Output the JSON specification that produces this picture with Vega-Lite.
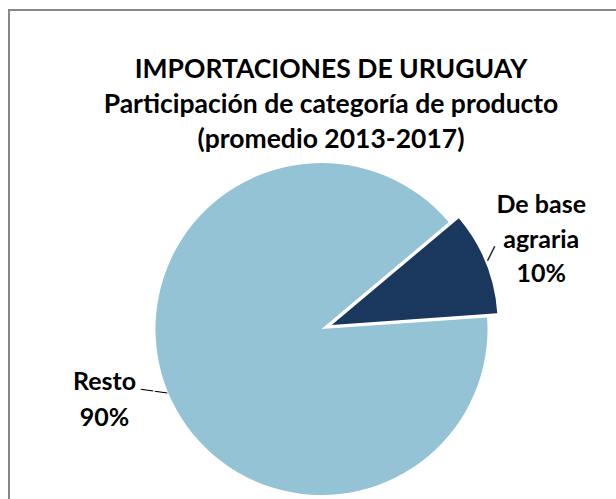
{
  "$schema": "https://vega.github.io/schema/vega-lite/v6.json",
  "autosize": "none",
  "width": 610,
  "height": 492,
  "padding": {"left": 9, "top": 10, "right": -3, "bottom": -3},
  "background": "white",
  "view": {"stroke": "#888888", "strokeWidth": 2},
  "config": {
    "view": {"stroke": "#888888", "strokeWidth": 2},
    "font": "Lato"
  },
  "title": {
    "text": ["IMPORTACIONES DE URUGUAY", "Participación de categoría de producto", "(promedio 2013-2017)"],
    "anchor": "middle",
    "font": "Lato",
    "fontWeight": "bold",
    "fontSize": 26.5,
    "lineHeight": 35,
    "color": "#000000",
    "offset": -143,
    "dx": 17
  },
  "data": {
    "values": [
      {"categoria": "De base agraria", "participacion": 10, "etiqueta": "De base\nagraria\n10%"},
      {"categoria": "Resto", "participacion": 90, "etiqueta": "Resto\n90%"}
    ]
  },
  "encoding": {
    "theta": {"field": "participacion", "type": "quantitative", "stack": true, "scale": {"domain": [0, 100], "range": [0.8727, 7.1559]}},
    "order": {"field": "categoria", "type": "nominal", "sort": "ascending"}
  },
  "layer": [
    {
      "mark": {"type": "arc", "outerRadius": 166, "xOffset": 7.5, "yOffset": 73},
      "encoding": {
        "color": {"field": "categoria", "type": "nominal", "scale": {"domain": ["De base agraria", "Resto"], "range": ["#1A375E", "#93C3D5"]}, "legend": null},
        "opacity": {"condition": {"test": "datum.categoria === 'Resto'", "value": 1}, "value": 0}
      }
    },
    {
      "mark": {"type": "arc", "outerRadius": 166, "xOffset": 17.7, "yOffset": 68.9},
      "encoding": {
        "color": {"field": "categoria", "type": "nominal", "legend": null},
        "opacity": {"condition": {"test": "datum.categoria === 'De base agraria'", "value": 1}, "value": 0}
      }
    },
    {
      "mark": {"type": "text", "text": "—", "font": "DejaVu Sans", "fontSize": 18, "angle": 296.4, "radius": 173, "xOffset": 16.5, "yOffset": 62.2, "align": "center", "baseline": "middle", "color": "#000000"},
      "encoding": {
        "opacity": {"condition": {"test": "datum.categoria === 'De base agraria'", "value": 1}, "value": 0}
      }
    },
    {
      "mark": {"type": "text", "text": "——", "font": "DejaVu Sans", "fontSize": 14, "angle": 8, "radius": 178.6, "xOffset": 5.6, "yOffset": 68.1, "align": "center", "baseline": "middle", "color": "#000000"},
      "encoding": {
        "opacity": {"condition": {"test": "datum.categoria === 'Resto'", "value": 1}, "value": 0}
      }
    },
    {
      "mark": {"type": "text", "radius": 237, "xOffset": 7.5, "yOffset": 73, "dy": -35, "font": "Lato", "fontWeight": "bold", "fontSize": 25, "lineHeight": 34.5, "lineBreak": "\n", "align": "center", "baseline": "middle", "color": "#000000"},
      "encoding": {
        "text": {"field": "etiqueta", "type": "nominal"},
        "opacity": {"condition": {"test": "datum.categoria === 'De base agraria'", "value": 1}, "value": 0}
      }
    },
    {
      "mark": {"type": "text", "radius": 234, "xOffset": 7.5, "yOffset": 73, "dy": -35, "font": "Lato", "fontWeight": "bold", "fontSize": 25, "lineHeight": 36.5, "lineBreak": "\n", "align": "center", "baseline": "middle", "color": "#000000"},
      "encoding": {
        "text": {"field": "etiqueta", "type": "nominal"},
        "opacity": {"condition": {"test": "datum.categoria === 'Resto'", "value": 1}, "value": 0}
      }
    }
  ]
}
